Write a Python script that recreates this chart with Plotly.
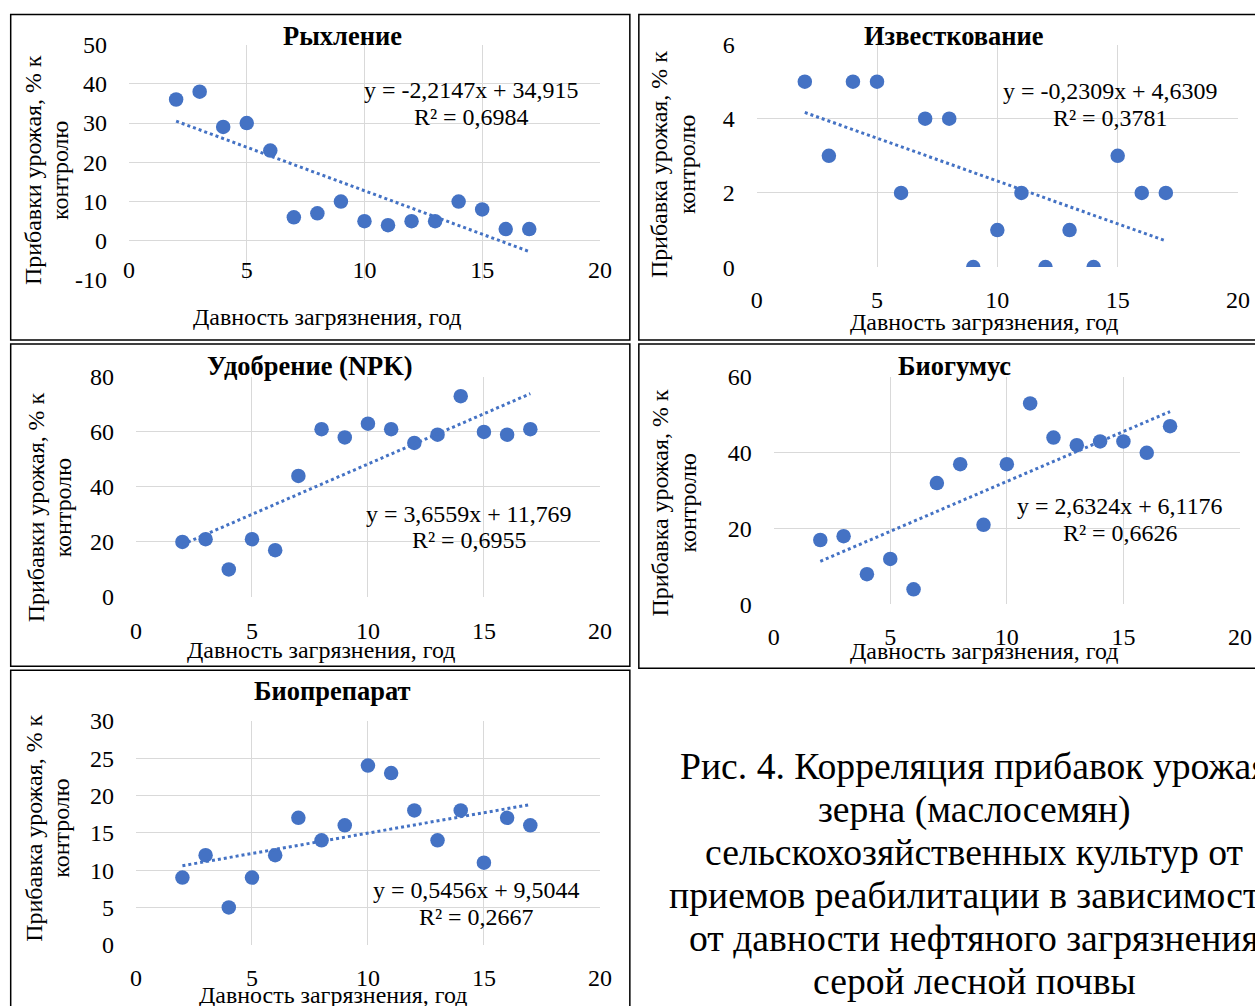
import numpy as np
import plotly.graph_objects as go

W, H = 1255, 1006

years = list(range(2, 18))

# Series values (yield increase, % to control)
rykhlenie = [36, 38, 29, 30, 23, 6, 7, 10, 5, 4, 5, 5, 10, 8, 3, 3]
izvestkovanie = [5, 3, 5, 5, 2, 4, 4, 0, 1, 2, 0, 1, 0, 3, 2, 2]
udobrenie = [20, 21, 10, 21, 17, 44, 61, 58, 63, 61, 56, 59, 73, 60, 59, 61]
biogumus = [17, 18, 8, 12, 4, 32, 37, 21, 37, 53, 44, 42, 43, 43, 40, 47]
biopreparat = [9, 12, 5, 9, 12, 17, 14, 16, 24, 23, 18, 14, 18, 11, 17, 16]

titles = ["Рыхление", "Известкование", "Удобрение (NPK)", "Биогумус", "Биопрепарат"]
ytitles = [
    ("Прибавки урожая, % к", "контролю"),
    ("Прибавка урожая, % к", "контролю"),
    ("Прибавки урожая, % к", "контролю"),
    ("Прибавка урожая, % к", "контролю"),
    ("Прибавка урожая, % к", "контролю"),
]
equations = [
    ("y = -2,2147x + 34,915", "R² = 0,6984"),
    ("y = -0,2309x + 4,6309", "R² = 0,3781"),
    ("y = 3,6559x + 11,769", "R² = 0,6955"),
    ("y = 2,6324x + 6,1176", "R² = 0,6626"),
    ("y = 0,5456x + 9,5044", "R² = 0,2667"),
]
xtitle = "Давность загрязнения, год"
caption_lines = [
    "Рис. 4. Корреляция прибавок урожая",
    "зерна (маслосемян)",
    "сельскохозяйственных культур от",
    "приемов реабилитации в зависимости",
    "от давности нефтяного загрязнения",
    "серой лесной почвы",
]

series = [rykhlenie, izvestkovanie, udobrenie, biogumus, biopreparat]
yranges = [(-10, 50, 10), (0, 6, 2), (0, 80, 20), (0, 60, 20), (0, 30, 5)]

# layout geometry (target picture pixels)
plot_px = [  # x0, x1, ytop, ybottom
    (128.5, 600, 44, 280),
    (757, 1239, 44, 267),
    (135.5, 600, 377, 597.5),
    (774, 1241, 377, 605),
    (135.5, 600, 721.5, 946),
]
panels = [  # x0, y0, x1, y1
    (10, 14, 630, 340),
    (639, 14, 1262, 340),
    (10, 344, 630, 667),
    (639, 344, 1262, 669),
    (10, 671, 630, 1015),
]
title_pos = [(342, 35), (954.5, 35), (309.5, 366), (955, 366), (332, 692)]
ytitle_pos = [(33, 60, 170), (660, 688, 164), (35, 62, 508), (660, 688, 503), (33, 60, 829)]
xtitle_pos = [(327, 317), (985, 322), (321, 651), (985, 652), (333, 996)]
eq_pos = [(470.5, 90, 117), (1111, 91, 118), (469, 514, 540), (1121, 506, 533), (475.5, 891, 918)]
xstandoff = [-27, 16, 17, 16, 16]

# the photographed page maps figure pixels to picture pixels with a slight
# offset and scale; place everything through its inverse
SX, OX, SY, OY = 0.987, 5.3, 0.976, 12.4
FS = 1 / 0.982  # font compensation

COLOR = "#4472C4"
FONT = "Liberation Serif, Times New Roman, serif"

fig = go.Figure()
annotations = []
shapes = []


def px_x(p):
    return ((p - OX) / SX) / W


def px_y(p):
    return 1 - ((p - OY) / SY) / H


def text(t, x, y, size, angle=0, bold=False):
    annotations.append(dict(
        text=f"<b>{t}</b>" if bold else t, x=px_x(x), y=px_y(y),
        xref="paper", yref="paper", showarrow=False,
        xanchor="center", yanchor="middle", textangle=angle,
        font=dict(family=FONT, size=size * FS, color="black")))


for i, ys in enumerate(series):
    n = i + 1
    xa = "x" if n == 1 else f"x{n}"
    ya = "y" if n == 1 else f"y{n}"
    fig.add_trace(go.Scatter(
        x=years, y=ys, mode="markers", xaxis=xa, yaxis=ya,
        marker=dict(color=COLOR, size=14.5), showlegend=False))
    k, b = np.polyfit(years, ys, 1)
    tx = [min(years), max(years)]
    fig.add_trace(go.Scatter(
        x=tx, y=[k * v + b for v in tx], mode="lines", xaxis=xa, yaxis=ya,
        line=dict(color=COLOR, width=3, dash="dot"), showlegend=False))

    x0, x1, yt, yb = plot_px[i]
    lo, hi, step = yranges[i]
    yvals = list(range(lo, hi + 1, step))
    xkey = "xaxis" if n == 1 else f"xaxis{n}"
    ykey = "yaxis" if n == 1 else f"yaxis{n}"
    fig.layout[xkey] = dict(
        domain=[px_x(x0), px_x(x1)], range=[0, 20], tickvals=[0, 5, 10, 15, 20],
        showgrid=True, gridcolor="#d9d9d9", gridwidth=1.3, zeroline=False,
        showline=False, anchor=ya, ticks="", ticklabelstandoff=xstandoff[i],
        tickfont=dict(family=FONT, size=24, color="black"), fixedrange=True)
    fig.layout[ykey] = dict(
        domain=[px_y(yb), px_y(yt)], range=[lo, hi],
        tickvals=yvals, ticktext=[str(v) for v in yvals],
        showgrid=True, gridcolor="#d9d9d9", gridwidth=1.3, zeroline=False,
        showline=False, anchor=xa, ticks="", ticklabelstandoff=21,
        tickfont=dict(family=FONT, size=24, color="black"), fixedrange=True)

    text(titles[i], title_pos[i][0], title_pos[i][1], 26, bold=True)
    yt1, yt2 = ytitles[i]
    text(yt1, ytitle_pos[i][0], ytitle_pos[i][2], 23.5, angle=-90)
    text(yt2, ytitle_pos[i][1], ytitle_pos[i][2], 23.5, angle=-90)
    text(xtitle, xtitle_pos[i][0], xtitle_pos[i][1], 23.5)
    eq1, eq2 = equations[i]
    text(eq1, eq_pos[i][0], eq_pos[i][1], 23.5)
    text(eq2, eq_pos[i][0], eq_pos[i][2], 23.5)

    p = panels[i]
    shapes.append(dict(type="rect", xref="paper", yref="paper",
                       x0=px_x(p[0]), x1=px_x(p[2]), y0=px_y(p[3]), y1=px_y(p[1]),
                       line=dict(color="black", width=1.5)))

for j, line in enumerate(caption_lines):
    text(line, 975, 767 + 43 * j, 37)

fig.update_layout(
    width=W, height=H, margin=dict(l=0, r=0, t=0, b=0),
    paper_bgcolor="white", plot_bgcolor="white",
    annotations=annotations, shapes=shapes, showlegend=False)

fig.write_html("out.html", config={"displayModeBar": False},
               post_script="document.body.style.margin='0';document.body.style.overflow='hidden';")
